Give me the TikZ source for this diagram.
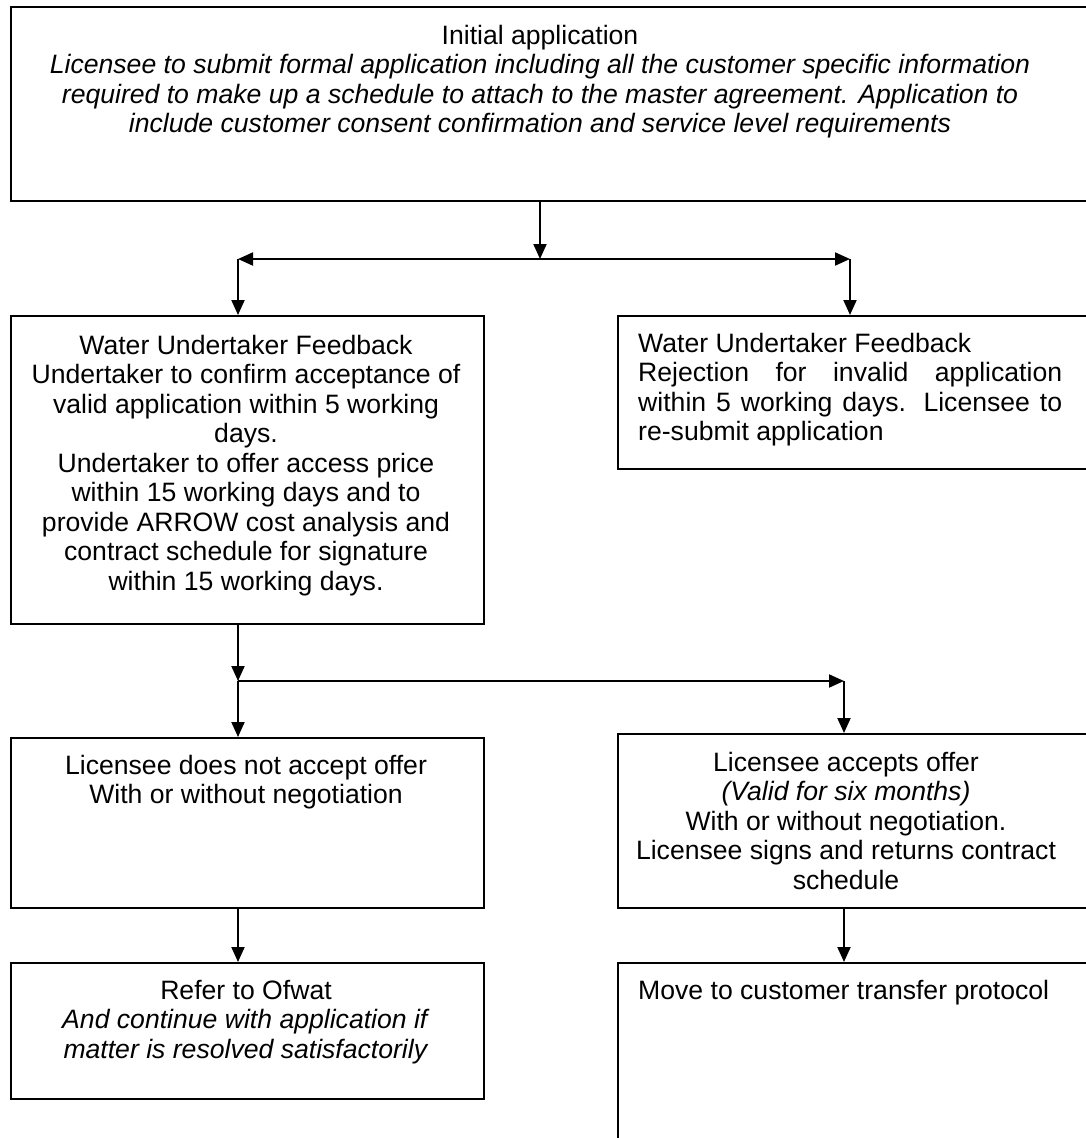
\documentclass[tikz,border=0pt]{standalone}
\usepackage{fontspec}
\setmainfont{Liberation Sans}
\usetikzlibrary{arrows.meta}
\begin{document}
\begin{tikzpicture}[x=1pt,y=-1pt,
  box/.style={draw, line width=2pt, inner sep=0pt, anchor=north west},
  txt/.style={inner sep=0pt, font=\fontsize{26.6}{29.5}\selectfont, align=center, anchor=north},
  jtxt/.style={inner sep=0pt, font=\fontsize{26.6}{29.5}\selectfont, anchor=north west},
  arr/.style={line width=2pt, -{Triangle[length=15pt,width=13pt]}}]
\useasboundingbox (0,0) rectangle (1085,1138);
\fill[white] (0,0) rectangle (1085,1138);
% boxes
\node[box, minimum width=1090pt, minimum height=194pt] (top) at (10,6) {};
\node[box, minimum width=473pt, minimum height=308pt] (fb1) at (10,315) {};
\node[box, minimum width=480pt, minimum height=153pt] (fb2) at (617,315) {};
\node[box, minimum width=473pt, minimum height=170pt] (na) at (10,737) {};
\node[box, minimum width=480pt, minimum height=174pt] (acc) at (617,733) {};
\node[box, minimum width=473pt, minimum height=136pt] (ofw) at (10,962) {};
\node[box, minimum width=480pt, minimum height=200pt] (mv) at (617,962) {};
% texts
\node[txt] (topt) at (540,25) {Initial application\\
\textit{Licensee to submit formal application including all the customer specific information}\\
\textit{required to make up a schedule to attach to the master agreement. Application to}\\
\textit{include customer consent confirmation and service level requirements}};
\node[txt] (fb1t) at (246,335) {Water Undertaker Feedback\\
Undertaker to confirm acceptance of\\
valid application within 5 working\\
days.\\
Undertaker to offer access price\\
within 15 working days and to\\
provide ARROW cost analysis and\\
contract schedule for signature\\
within 15 working days.};
\node[jtxt, text width=424pt, align=justify] (fb2t) at (638,333) {Water Undertaker Feedback\\
Rejection for invalid application\linebreak
within 5 working days. Licensee to\linebreak
re-submit application};
\node[txt] (nat) at (246,755) {Licensee does not accept offer\\
With or without negotiation};
\node[txt] (acct) at (846,752) {Licensee accepts offer\\
\textit{(Valid for six months)}\\
With or without negotiation.\\
Licensee signs and returns contract\\
schedule};
\node[txt] (ofwt) at (246,980) {Refer to Ofwat\\
\textit{And continue with application if}\\
\textit{matter is resolved satisfactorily}};
\node[jtxt] (mvt) at (638,980) {Move to customer transfer protocol};
% connectors
\coordinate (s1) at (540,259);
\coordinate (s1L) at (238,259);
\coordinate (s1R) at (850,259);
\draw[arr] (top.south -| s1) -- (s1);
\draw[arr] (s1) -- (s1L);
\draw[arr] (s1) -- (s1R);
\draw[arr] (s1L) -- (s1L |- fb1.north);
\draw[arr] (s1R) -- (s1R |- fb2.north);
\coordinate (s2) at (238,681);
\coordinate (s2R) at (844,681);
\draw[arr] (fb1.south -| s2) -- (s2);
\draw[arr] (s2) -- (s2R);
\draw[arr] (s2) -- (s2 |- na.north);
\draw[arr] (s2R) -- (s2R |- acc.north);
\draw[arr] (na.south -| s2) -- (ofw.north -| s2);
\draw[arr] (acc.south -| s2R) -- (mv.north -| s2R);
\end{tikzpicture}
\end{document}
